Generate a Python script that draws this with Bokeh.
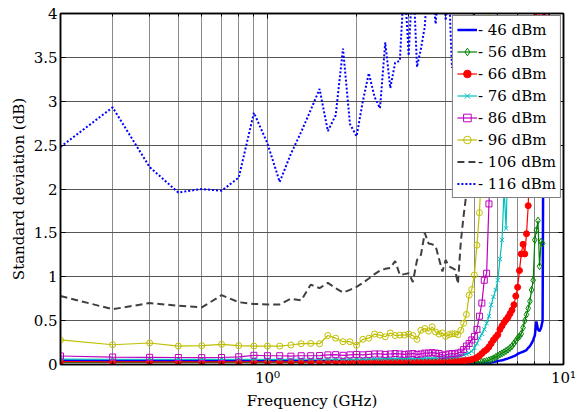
from bokeh.plotting import figure
from bokeh.models import (FixedTicker, LinearAxis, LogAxis, Legend, LegendItem,
                          CustomJSTickFormatter)
from bokeh.embed import file_html
from bokeh.resources import INLINE

# Frequency grid (GHz) shared by all series
freq = [0.2, 0.3, 0.4, 0.5, 0.6, 0.7, 0.8, 0.9, 1.0, 1.1,
        1.2, 1.3, 1.4, 1.5, 1.6, 1.7, 1.8, 1.9, 2.0, 2.1,
        2.2, 2.3, 2.4, 2.5, 2.6, 2.7, 2.8, 2.9, 3.0, 3.1,
        3.2, 3.3, 3.4, 3.5, 3.6, 3.7, 3.8, 3.9, 4.0, 4.1,
        4.2, 4.3, 4.4, 4.5, 4.6, 4.7, 4.8, 4.9, 5.0, 5.1,
        5.2, 5.3, 5.4, 5.5, 5.6, 5.7, 5.8, 5.9, 6.0, 6.1,
        6.2, 6.3, 6.4, 6.5, 6.6, 6.7, 6.8, 6.9, 7.0, 7.1,
        7.2, 7.3, 7.4, 7.5, 7.6, 7.7, 7.8, 7.9, 8.0, 8.1,
        8.2, 8.3, 8.4, 8.5, 8.6, 8.7, 8.8, 8.9, 9.0]

# Standard deviation (dB) per input power level
std_46 = [0.045, 0.044, 0.044, 0.043, 0.043, 0.042, 0.042, 0.041, 0.041, 0.040,
          0.040, 0.039, 0.038, 0.038, 0.037, 0.036, 0.036, 0.035, 0.034, 0.033,
          0.032, 0.031, 0.030, 0.029, 0.028, 0.027, 0.026, 0.025, 0.024, 0.023,
          0.022, 0.021, 0.020, 0.019, 0.018, 0.017, 0.016, 0.015, 0.014, 0.013,
          0.012, 0.012, 0.011, 0.011, 0.010, 0.010, 0.010, 0.010, 0.010, 0.010,
          0.011, 0.012, 0.013, 0.015, 0.018, 0.022, 0.027, 0.033, 0.040, 0.044,
          0.049, 0.055, 0.062, 0.070, 0.078, 0.086, 0.095, 0.105, 0.120, 0.130,
          0.138, 0.145, 0.155, 0.165, 0.190, 0.210, 0.240, 0.280, 0.330, 0.490,
          0.400, 0.380, 0.420, 0.500, 5.000]

std_56 = [0.025, 0.024, 0.025, 0.024, 0.023, 0.024, 0.024, 0.023, 0.024, 0.023,
          0.023, 0.024, 0.023, 0.024, 0.024, 0.023, 0.024, 0.025, 0.024, 0.025,
          0.024, 0.025, 0.025, 0.024, 0.025, 0.026, 0.025, 0.026, 0.025, 0.026,
          0.026, 0.025, 0.026, 0.027, 0.026, 0.027, 0.026, 0.027, 0.027, 0.026,
          0.027, 0.026, 0.027, 0.026, 0.026, 0.025, 0.025, 0.025, 0.025, 0.026,
          0.028, 0.030, 0.034, 0.040, 0.048, 0.058, 0.070, 0.085, 0.100, 0.115,
          0.127, 0.140, 0.155, 0.170, 0.190, 0.210, 0.240, 0.270, 0.300, 0.320,
          0.350, 0.420, 0.500, 0.570, 0.640, 0.720, 0.850, 0.960, 1.420, 1.530,
          1.640, 1.120, 1.400, 1.380]

std_66 = [0.032, 0.031, 0.030, 0.031, 0.030, 0.030, 0.031, 0.030, 0.030, 0.031,
          0.030, 0.031, 0.031, 0.030, 0.031, 0.032, 0.031, 0.031, 0.032, 0.031,
          0.032, 0.032, 0.031, 0.032, 0.033, 0.032, 0.033, 0.032, 0.033, 0.033,
          0.034, 0.033, 0.034, 0.034, 0.035, 0.034, 0.035, 0.036, 0.036, 0.037,
          0.038, 0.039, 0.040, 0.042, 0.044, 0.047, 0.051, 0.056, 0.065, 0.080,
          0.100, 0.125, 0.150, 0.170, 0.200, 0.240, 0.280, 0.310, 0.340, 0.400,
          0.440, 0.480, 0.510, 0.540, 0.580, 0.620, 0.680, 0.780, 0.880, 1.070,
          1.260, 1.370, 1.260, 1.490, 1.810, 2.500, 3.100, 3.600, 4.300, 3.800,
          4.400, 3.900, 4.500, 3.900, 4.400, 3.900, 4.600, 3.900, 4.500]

std_76 = [0.062, 0.060, 0.060, 0.058, 0.058, 0.060, 0.058, 0.060, 0.058, 0.060,
          0.058, 0.060, 0.060, 0.062, 0.060, 0.062, 0.060, 0.062, 0.060, 0.064,
          0.062, 0.066, 0.064, 0.066, 0.068, 0.066, 0.070, 0.068, 0.070, 0.068,
          0.072, 0.070, 0.072, 0.074, 0.072, 0.075, 0.074, 0.076, 0.078, 0.080,
          0.082, 0.085, 0.090, 0.100, 0.110, 0.120, 0.130, 0.150, 0.190, 0.240,
          0.300, 0.350, 0.400, 0.470, 0.550, 0.680, 0.770, 0.850, 0.960, 1.200,
          1.420, 2.000, 1.550, 2.500, 2.800, 3.100, 3.400, 3.700, 3.950, 4.300,
          4.700]

std_86 = [0.097, 0.085, 0.082, 0.080, 0.078, 0.080, 0.088, 0.105, 0.100, 0.100,
          0.095, 0.100, 0.100, 0.102, 0.110, 0.112, 0.105, 0.110, 0.115, 0.110,
          0.115, 0.120, 0.120, 0.115, 0.120, 0.125, 0.120, 0.115, 0.120, 0.125,
          0.115, 0.120, 0.130, 0.130, 0.135, 0.130, 0.125, 0.105, 0.110, 0.120,
          0.125, 0.120, 0.130, 0.140, 0.170, 0.210, 0.240, 0.280, 0.320, 0.400,
          0.550, 0.700, 0.960, 1.040, 1.830, 2.400, 3.000, 3.600, 4.100, 4.700]

std_96 = [0.280, 0.225, 0.245, 0.210, 0.215, 0.230, 0.215, 0.210, 0.210, 0.210,
          0.222, 0.237, 0.240, 0.237, 0.330, 0.300, 0.260, 0.260, 0.220, 0.287,
          0.300, 0.347, 0.335, 0.316, 0.360, 0.330, 0.335, 0.335, 0.347, 0.330,
          0.287, 0.390, 0.410, 0.380, 0.430, 0.370, 0.347, 0.360, 0.320, 0.340,
          0.350, 0.350, 0.340, 0.390, 0.470, 0.570, 0.790, 0.855, 1.020, 1.360,
          1.730, 2.300, 2.900, 3.500, 4.100, 4.700]

std_106 = [0.78, 0.63, 0.70, 0.67, 0.65, 0.79, 0.71, 0.69, 0.685, 0.685,
           0.75, 0.73, 0.91, 0.87, 0.93, 0.87, 0.82, 0.85, 0.885, 0.93,
           0.98, 1.03, 1.07, 1.09, 1.10, 1.18, 1.02, 1.03, 1.04, 0.94,
           1.19, 1.25, 1.50, 1.38, 1.37, 1.35, 1.20, 1.06, 1.19, 1.12,
           1.10, 1.08, 0.92, 1.40, 1.70, 1.95, 2.60, 3.40, 4.30]

std_116 = [2.48, 2.93, 2.25, 1.96, 2.00, 1.98, 2.13, 2.87, 2.52, 2.08,
           2.40, 2.65, 2.90, 3.14, 2.66, 2.84, 3.60, 2.74, 2.60, 3.00,
           3.32, 3.05, 2.92, 3.67, 3.15, 3.44, 3.46, 4.40, 3.52, 4.50,
           3.39, 3.60, 3.85, 4.50, 4.30, 3.88, 4.40, 4.60, 3.92, 4.30,
           3.38, 3.90, 4.60, 4.80, 5.00]

labels = ["- 46 dBm", "- 56 dBm", "- 66 dBm", "- 76 dBm",
          "- 86 dBm", "- 96 dBm", "- 106 dBm", "- 116 dBm"]

x_major = [1, 10]
x_minor = [0.2, 0.3, 0.4, 0.5, 0.6, 0.7, 0.8, 0.9, 2, 3, 4, 5, 6, 7, 8, 9]
y_ticks = [0, 0.5, 1, 1.5, 2, 2.5, 3, 3.5, 4]

FONT = "DejaVu Serif"
FS = "15px"

p = figure(width=582, height=412, x_axis_type="log",
           x_range=(0.2, 10), y_range=(0, 4),
           output_backend="svg", toolbar_location=None,
           min_border_left=60, min_border_right=19,
           min_border_top=13, min_border_bottom=48,
           background_fill_color="white", border_fill_color="white")

xticker = FixedTicker(ticks=x_major, minor_ticks=x_minor)
yticker = FixedTicker(ticks=y_ticks)

p.xaxis.ticker = xticker
p.yaxis.ticker = yticker
p.xgrid.ticker = xticker
p.ygrid.ticker = yticker

p.xaxis.formatter = CustomJSTickFormatter(
    code="return tick == 1 ? '10\u2070' : (tick == 10 ? '10\u00b9' : '');")
p.yaxis.formatter = CustomJSTickFormatter(code="return String(tick);")

for ax in (p.xaxis[0], p.yaxis[0]):
    ax.axis_line_color = "black"
    ax.axis_line_width = 1.5
    ax.major_tick_in = 5
    ax.major_tick_out = 0
    ax.minor_tick_in = 3
    ax.minor_tick_out = 0
    ax.major_tick_line_color = "black"
    ax.minor_tick_line_color = "black"
    ax.major_label_text_font = FONT
    ax.major_label_text_font_size = FS
    ax.major_label_text_color = "black"
    ax.axis_label_text_font = FONT
    ax.axis_label_text_font_size = FS
    ax.axis_label_text_font_style = "normal"
    ax.axis_label_text_color = "black"

p.yaxis.minor_tick_line_color = None
p.xaxis.axis_label = "Frequency (GHz)"
p.yaxis.axis_label = "Standard deviation (dB)"
p.xaxis.major_label_standoff = 4
p.yaxis.major_label_standoff = 3
p.xaxis.axis_label_standoff = 2
p.yaxis.axis_label_standoff = 3

# Box axes on top and right with inward ticks and blank labels
blank = CustomJSTickFormatter(code="return '';")
top = LogAxis(ticker=xticker, formatter=blank,
              major_tick_in=5, major_tick_out=0,
              minor_tick_in=3, minor_tick_out=0,
              axis_line_width=1.5, major_label_text_font_size="2px",
              major_label_standoff=0)
right = LinearAxis(ticker=yticker, formatter=blank,
                   major_tick_in=5, major_tick_out=0,
                   minor_tick_line_color=None,
                   axis_line_width=1.5, major_label_text_font_size="2px",
                   major_label_standoff=0)
p.add_layout(top, "above")
p.add_layout(right, "right")

p.xgrid.grid_line_color = "#8a8a8a"
p.xgrid.minor_grid_line_color = "#8a8a8a"
p.ygrid.grid_line_color = "#555555"
p.xgrid.grid_line_width = 1
p.ygrid.grid_line_width = 1

items = []


def fx(series):
    return freq[:len(series)]


r = p.line(fx(std_46), std_46, line_color="#0000ff", line_width=2.5)
items.append(LegendItem(label=labels[0], renderers=[r]))

r1 = p.line(fx(std_56), std_56, line_color="#008000", line_width=1.2)
r2 = p.scatter(fx(std_56), std_56, marker="diamond", size=7, line_color="#008000",
               fill_color=None, line_width=1)
items.append(LegendItem(label=labels[1], renderers=[r1, r2]))

r1 = p.line(fx(std_66), std_66, line_color="#ff0000", line_width=1.2)
r2 = p.scatter(fx(std_66), std_66, marker="circle", size=6, line_color="#ff0000",
               fill_color="#ff0000")
items.append(LegendItem(label=labels[2], renderers=[r1, r2]))

r1 = p.line(fx(std_76), std_76, line_color="#00bfbf", line_width=1.2)
r2 = p.scatter(fx(std_76), std_76, marker="x", size=6, line_color="#00bfbf",
               line_width=1)
items.append(LegendItem(label=labels[3], renderers=[r1, r2]))

r1 = p.line(fx(std_86), std_86, line_color="#bf00bf", line_width=1.2)
r2 = p.scatter(fx(std_86), std_86, marker="square", size=6, line_color="#bf00bf",
               fill_color=None, line_width=1)
items.append(LegendItem(label=labels[4], renderers=[r1, r2]))

r1 = p.line(fx(std_96), std_96, line_color="#bfbf00", line_width=1.2)
r2 = p.scatter(fx(std_96), std_96, marker="circle", size=6, line_color="#bfbf00",
               fill_color=None, line_width=1)
items.append(LegendItem(label=labels[5], renderers=[r1, r2]))

r = p.line(fx(std_106), std_106, line_color="#404040", line_width=2,
           line_dash="7 4")
items.append(LegendItem(label=labels[6], renderers=[r]))

r = p.line(fx(std_116), std_116, line_color="#0000ff", line_width=2,
           line_dash="2 2")
items.append(LegendItem(label=labels[7], renderers=[r]))

legend = Legend(items=items, location="top_right", margin=2,
                padding=4, spacing=3, glyph_width=20, glyph_height=19,
                label_height=19, label_standoff=1,
                label_text_font=FONT, label_text_font_size=FS,
                label_text_color="black",
                border_line_color="black", border_line_width=1.5,
                background_fill_color="white", background_fill_alpha=1)
p.add_layout(legend)

p.outline_line_color = "black"
p.outline_line_width = 1.5

open("out.html", "w").write(file_html(p, INLINE))
